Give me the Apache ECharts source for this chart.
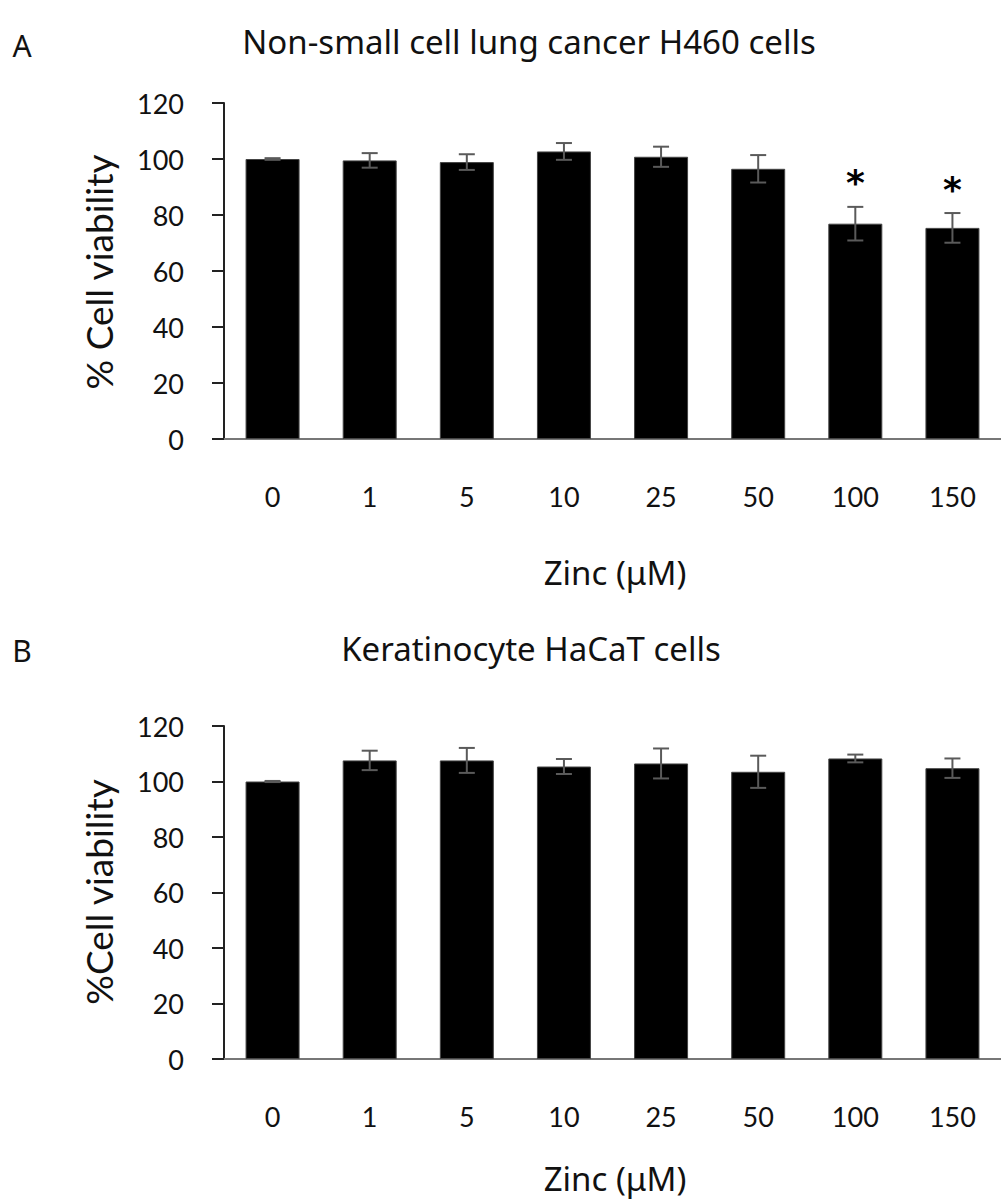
<!DOCTYPE html>
<html>
<head>
<meta charset="utf-8">
<script src="https://cdn.jsdelivr.net/npm/echarts@6/dist/echarts.min.js"></script>
<style>
html,body{margin:0;padding:0;background:#fff;}
#chart{width:1001px;height:1201px;}
</style>
</head>
<body>
<div id="chart"></div>
<script>
const doses = ['0', '1', '5', '10', '25', '50', '100', '150'];
const viabilityA = [100, 99.5, 98.9, 102.7, 100.8, 96.5, 76.9, 75.4];
const errorA = [0.3, 2.6, 2.8, 3.0, 3.6, 4.9, 6.0, 5.3];
const sigA = ['', '', '', '', '', '', '*', '*'];
const viabilityB = [100, 107.6, 107.6, 105.4, 106.5, 103.5, 108.3, 104.8];
const errorB = [0.2, 3.5, 4.5, 2.7, 5.4, 5.8, 1.4, 3.5];
const sigB = ['', '', '', '', '', '', '', ''];
const yMin = 0, yMax = 120, yStep = 20;
const titleA = 'Non-small cell lung cancer H460 cells';
const titleB = 'Keratinocyte HaCaT cells';
const yNameA = '% Cell viability';
const yNameB = '%Cell viability';
const xName = 'Zinc (\u03bcM)';

const labelFont = 'Lato, "Open Sans", sans-serif';
const titleFont = '"Noto Sans", sans-serif';

function errData(vals, errs) {
  return vals.map((v, i) => [i, v, errs[i]]);
}

function renderErr(params, api) {
  const i = api.value(0), v = api.value(1), e = api.value(2);
  const top = api.coord([i, v + e]);
  const bot = api.coord([i, v - e]);
  const cap = 8;
  const st = { stroke: '#5a5a5a', lineWidth: 2 };
  return { type: 'group', children: [
    { type: 'line', shape: { x1: top[0], y1: top[1], x2: bot[0], y2: bot[1] }, style: st },
    { type: 'line', shape: { x1: top[0] - cap, y1: top[1], x2: top[0] + cap, y2: top[1] }, style: st },
    { type: 'line', shape: { x1: bot[0] - cap, y1: bot[1], x2: bot[0] + cap, y2: bot[1] }, style: st }
  ] };
}

function makeRenderSig(sigArr) {
  return function (params, api) {
    const i = api.value(0), v = api.value(1), e = api.value(2);
    const s = sigArr[i];
    if (!s) return { type: 'group', children: [] };
    const top = api.coord([i, v + e]);
    return {
      type: 'text',
      style: {
        text: s, x: top[0], y: top[1] - 24,
        textAlign: 'center', textVerticalAlign: 'middle',
        font: 'bold 36px "DejaVu Sans", sans-serif', fill: '#000'
      }
    };
  };
}

function yAxisCfg(gridIndex) {
  return {
    type: 'value', gridIndex: gridIndex, min: yMin, max: yMax, interval: yStep,
    axisLine: { show: true, lineStyle: { color: '#222', width: 2 } },
    axisTick: { show: true, length: 12, inside: false, lineStyle: { color: '#222', width: 2 } },
    axisLabel: { margin: 40, fontSize: 27, color: '#111', fontFamily: labelFont },
    splitLine: { show: false }
  };
}
function xAxisCfg(gridIndex) {
  return {
    type: 'category', gridIndex: gridIndex, data: doses,
    axisLine: { show: true, lineStyle: { color: '#777', width: 2 } },
    axisTick: { show: false },
    axisLabel: { margin: 44, fontSize: 27, color: '#111', fontFamily: labelFont }
  };
}

const chart = echarts.init(document.getElementById('chart'), null, { renderer: 'svg' });
chart.setOption({
  backgroundColor: '#fff',
  animation: false,
  grid: [
    { left: 224, top: 103, width: 784, height: 336 },
    { left: 224, top: 726, width: 784, height: 333 }
  ],
  xAxis: [xAxisCfg(0), xAxisCfg(1)],
  yAxis: [yAxisCfg(0), yAxisCfg(1)],
  series: [
    { type: 'bar', xAxisIndex: 0, yAxisIndex: 0, data: viabilityA, barWidth: 54,
      itemStyle: { color: '#000', borderColor: '#444', borderWidth: 1 } },
    { type: 'custom', xAxisIndex: 0, yAxisIndex: 0, renderItem: renderErr,
      data: errData(viabilityA, errorA), z: 5 },
    { type: 'custom', xAxisIndex: 0, yAxisIndex: 0, renderItem: makeRenderSig(sigA),
      data: errData(viabilityA, errorA), z: 6 },
    { type: 'bar', xAxisIndex: 1, yAxisIndex: 1, data: viabilityB, barWidth: 54,
      itemStyle: { color: '#000', borderColor: '#444', borderWidth: 1 } },
    { type: 'custom', xAxisIndex: 1, yAxisIndex: 1, renderItem: renderErr,
      data: errData(viabilityB, errorB), z: 5 },
    { type: 'custom', xAxisIndex: 1, yAxisIndex: 1, renderItem: makeRenderSig(sigB),
      data: errData(viabilityB, errorB), z: 6 }
  ],
  graphic: [
    { type: 'text', x: 22, y: 45, style: { text: 'A', font: '30px ' + titleFont, fill: '#111', textAlign: 'center', textVerticalAlign: 'middle' } },
    { type: 'text', x: 529, y: 41, style: { text: titleA, font: '33px ' + titleFont, fill: '#111', textAlign: 'center', textVerticalAlign: 'middle' } },
    { type: 'text', x: 22, y: 650, style: { text: 'B', font: '30px ' + titleFont, fill: '#111', textAlign: 'center', textVerticalAlign: 'middle' } },
    { type: 'text', x: 531, y: 648, style: { text: titleB, font: '33px ' + titleFont, fill: '#111', textAlign: 'center', textVerticalAlign: 'middle' } },
    { type: 'text', x: 98, y: 272, rotation: Math.PI / 2, style: { text: yNameA, font: '37px ' + labelFont, fill: '#111', textAlign: 'center', textVerticalAlign: 'middle' } },
    { type: 'text', x: 98, y: 892, rotation: Math.PI / 2, style: { text: yNameB, font: '37px ' + labelFont, fill: '#111', textAlign: 'center', textVerticalAlign: 'middle' } },
    { type: 'text', x: 615, y: 572, style: { text: xName, font: '33px ' + titleFont, fill: '#111', textAlign: 'center', textVerticalAlign: 'middle' } },
    { type: 'text', x: 615, y: 1178, style: { text: xName, font: '33px ' + titleFont, fill: '#111', textAlign: 'center', textVerticalAlign: 'middle' } }
  ]
});
</script>
</body>
</html>
